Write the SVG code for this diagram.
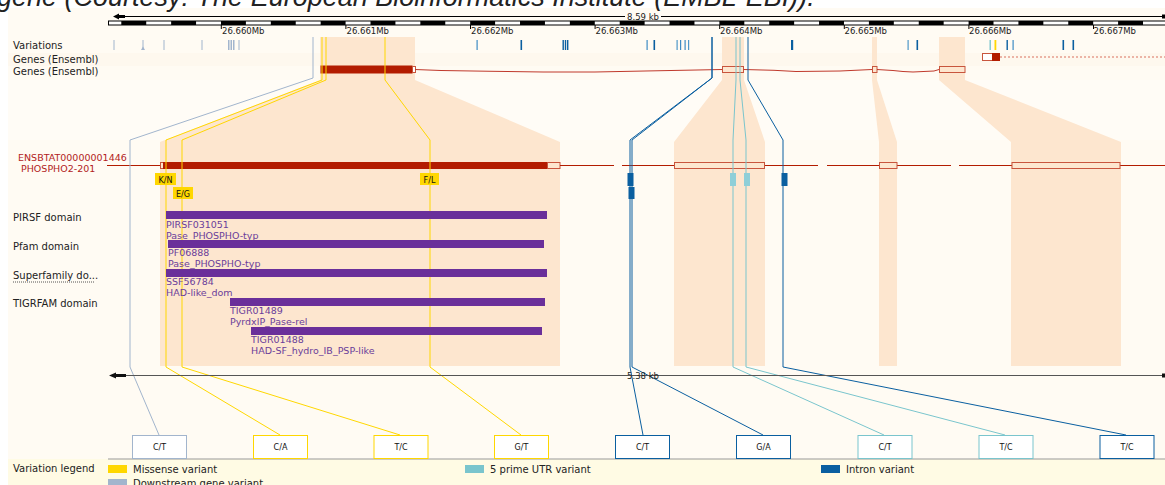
<svg xmlns="http://www.w3.org/2000/svg" width="1165" height="485" viewBox="0 0 1165 485">
<defs>
<style>
.lbl{font-family:"DejaVu Sans",sans-serif;font-size:10px;fill:#222}
.tick{font-family:"DejaVu Sans",sans-serif;font-size:8.5px;fill:#222}
.tx{font-family:"DejaVu Sans",sans-serif;font-size:9.5px;fill:#b22222}
.dom{font-family:"DejaVu Sans",sans-serif;font-size:9.5px;fill:#6a3d9a}
.dbar{fill:#6a2f9a}
.bt{font-family:"DejaVu Sans",sans-serif;font-size:8px;fill:#111;text-anchor:middle}
.peach{fill:#fde6cf}
.conn{fill:none;stroke-width:1}
.mis{stroke:#ffd700}
.utr{stroke:#7ac5cd}
.int{stroke:#0a5fa0}
.dsg{stroke:#a2b5cd}
.exo{fill:#fde6cf;stroke:#c8553d;stroke-width:1}
.exf{fill:#b31c00}
.intr{fill:none;stroke:#c0392b;stroke-width:1}
.vbox{fill:#fff;stroke-width:1}
</style>
<pattern id="ruler" patternUnits="userSpaceOnUse" x="121.3" y="21" width="49.84" height="4">
<rect x="0" y="0" width="24.92" height="4" fill="#000"/>
</pattern>
</defs>

<!-- background -->
<rect x="0" y="0" width="1165" height="485" fill="#fff"/>
<rect x="8" y="8" width="1157" height="477" fill="#fffbf3"/>
<rect x="8" y="53" width="1157" height="13" fill="#fef8ee"/>
<rect x="8" y="80" width="1157" height="60" fill="#fffcf6"/>
<rect x="8" y="459" width="1157" height="26" fill="#fffbe4"/>
<line x1="108" y1="459" x2="1165" y2="459" stroke="#999" stroke-width="1"/>

<!-- caption (cropped) -->
<text x="-3" y="6" font-family="Liberation Sans, sans-serif" font-style="italic" font-size="27" fill="#222">gene (Courtesy: The European Bioinformatics Institute (EMBL-EBI)).</text>

<!-- peach exon highlights -->
<g id="highlights">
<polygon class="peach" points="320,37 415,37 415,80 560,142 560,366 160,366 160,142 320,80"/>
<polygon class="peach" points="722,37 744,37 744,80 765,142 765,366 674,366 674,142 722,80"/>
<polygon class="peach" points="872,37 877,37 877,80 897,142 897,366 879,366 879,142 872,80"/>
<polygon class="peach" points="939,37 965,37 965,80 1121,142 1121,366 1011,366 1011,142 939,80"/>
</g>

<!-- top scale -->
<g id="scale-top">
<line x1="118" y1="16.5" x2="1165" y2="16.5" stroke="#000" stroke-width="1"/>
<polygon points="113,16.5 119,13.5 119,15 125,15 125,18 119,18 119,19.5" fill="#000"/>
<rect x="1162" y="14.5" width="3" height="4" fill="#000"/>
<rect x="625" y="11" width="36" height="11" fill="#fffbf3"/>
<text x="643" y="20" class="tick" text-anchor="middle" font-size="9">8.59 kb</text>
<rect x="108.5" y="21" width="1057" height="4" fill="#fff" stroke="#000" stroke-width="1"/>
<rect x="108.5" y="21" width="1057" height="4" fill="url(#ruler)"/>
<g stroke="#000" stroke-width="1">
<line x1="221.3" y1="25" x2="221.3" y2="29"/>
<line x1="345.9" y1="25" x2="345.9" y2="29"/>
<line x1="470.5" y1="25" x2="470.5" y2="29"/>
<line x1="595.1" y1="25" x2="595.1" y2="29"/>
<line x1="719.7" y1="25" x2="719.7" y2="29"/>
<line x1="844.3" y1="25" x2="844.3" y2="29"/>
<line x1="968.9" y1="25" x2="968.9" y2="29"/>
<line x1="1093.5" y1="25" x2="1093.5" y2="29"/>
</g>
<text x="222" y="34" class="tick">26.660Mb</text>
<text x="346.5" y="34" class="tick">26.661Mb</text>
<text x="471" y="34" class="tick">26.662Mb</text>
<text x="595.5" y="34" class="tick">26.663Mb</text>
<text x="720" y="34" class="tick">26.664Mb</text>
<text x="844.5" y="34" class="tick">26.665Mb</text>
<text x="969" y="34" class="tick">26.666Mb</text>
<text x="1093.5" y="34" class="tick">26.667Mb</text>
</g>

<!-- track labels -->
<g id="track-labels">
<text x="13" y="49" class="lbl">Variations</text>
<text x="13" y="63" class="lbl">Genes (Ensembl)</text>
<text x="13" y="75" class="lbl">Genes (Ensembl)</text>
<text x="13" y="221" class="lbl">PIRSF domain</text>
<text x="13" y="250" class="lbl">Pfam domain</text>
<text x="13" y="279" class="lbl">Superfamily do...</text>
<line x1="13" y1="282" x2="95" y2="282" stroke="#555" stroke-width="1" stroke-dasharray="1,1"/>
<text x="13" y="307" class="lbl">TIGRFAM domain</text>
<text x="13" y="472" class="lbl">Variation legend</text>
</g>

<!-- variation ticks (top track) -->
<g id="variation-track">
<g fill="#a2b5cd">
<rect x="113.5" y="40" width="1" height="10"/>
<rect x="142.5" y="40" width="1" height="8"/>
<polygon points="141,50 143,46.5 145,50"/>
<rect x="163.5" y="40" width="1" height="10"/>
<rect x="201.5" y="40" width="1" height="10"/>
<rect x="228" y="40" width="1.5" height="10"/>
<rect x="230.5" y="40" width="1.5" height="10"/>
<rect x="233" y="40" width="1.5" height="10"/>
<rect x="238.5" y="40" width="1" height="10"/>
</g>
<g fill="#0a5fa0">
<rect x="476.5" y="40" width="1.2" height="10" fill="#3f8cc4"/>
<rect x="520.5" y="40" width="1.6" height="10"/>
<rect x="562.5" y="40" width="1.4" height="10"/>
<rect x="564.8" y="40" width="1.4" height="10"/>
<rect x="567" y="40" width="1.4" height="10"/>
<rect x="646.5" y="40" width="1.2" height="10" fill="#3f8cc4"/>
<rect x="653.5" y="40" width="1.6" height="10"/>
<rect x="676.5" y="40" width="1.2" height="10" fill="#4f97c8"/>
<rect x="680" y="40" width="1.2" height="10" fill="#3f8cc4"/>
<rect x="684.5" y="40" width="1.2" height="10" fill="#3f8cc4"/>
<rect x="688" y="40" width="1.2" height="10" fill="#4f97c8"/>
<rect x="791" y="40" width="2.2" height="10"/>
<rect x="907.5" y="40" width="1.2" height="10" fill="#4f97c8"/>
<rect x="916.5" y="40" width="1.6" height="10"/>
<rect x="989.5" y="40" width="1.4" height="10" fill="#7ac5cd"/>
<rect x="994.5" y="40" width="1.8" height="10" fill="#ffd700"/>
<rect x="1006.5" y="40" width="1.4" height="10"/>
<rect x="1012.5" y="40" width="1.2" height="10" fill="#3f8cc4"/>
<rect x="1062.5" y="40" width="1.6" height="10"/>
<rect x="1072.5" y="40" width="1.6" height="10"/>
</g>
</g>

<!-- genes (Ensembl) top -->
<g id="gene-other">
<rect x="982.5" y="53.5" width="10" height="7" fill="#fff" stroke="#c8553d" stroke-width="1"/>
<rect x="992" y="53" width="8" height="8" fill="#b31c00"/>
<line x1="1000" y1="57" x2="1165" y2="57" stroke="#d9705f" stroke-width="1" stroke-dasharray="2,2"/>
</g>
<g id="gene-phospho2">
<rect x="320.5" y="65.5" width="92" height="8" fill="#b31c00"/>
<rect x="412.5" y="66.5" width="3" height="6" fill="#fff" stroke="#c8553d" stroke-width="1"/>
<polyline class="intr" points="415,69.5 441,70.5 492,71.3 543,72 595,72 645,71 697,70 722,69.5"/>
<rect class="exo" x="722.5" y="66.5" width="21" height="6"/>
<polyline class="intr" points="743.5,69.5 774,70.3 796,71.5 840,71 872,69.5"/>
<rect class="exo" x="872.5" y="66.5" width="4.5" height="6"/>
<polyline class="intr" points="877,69.5 893,70.5 903,71.5 913,72 934,71 939,69.5"/>
<rect class="exo" x="939.5" y="66.5" width="25.5" height="6"/>
</g>

<!-- transcript -->
<g id="transcript">
<text x="18" y="161" class="tx">ENSBTAT00000001446</text>
<text x="21" y="172" class="tx">PHOSPHO2-201</text>
<line x1="107" y1="165.5" x2="160" y2="165.5" stroke="#b31c00" stroke-width="1"/>
<rect class="exo" x="160.5" y="162.5" width="3" height="6"/>
<rect class="exf" x="163" y="162" width="384" height="7"/>
<rect class="exo" x="547.5" y="162.5" width="12.5" height="6"/>
<g stroke="#b31c00" stroke-width="1">
<line x1="560" y1="165.5" x2="614" y2="165.5"/>
<line x1="622" y1="165.5" x2="674" y2="165.5"/>
<line x1="765" y1="165.5" x2="818" y2="165.5"/>
<line x1="827" y1="165.5" x2="879" y2="165.5"/>
<line x1="897" y1="165.5" x2="951" y2="165.5"/>
<line x1="959" y1="165.5" x2="1012" y2="165.5"/>
<line x1="1120" y1="165.5" x2="1165" y2="165.5"/>
</g>
<rect class="exo" x="674.5" y="162.5" width="90" height="6"/>
<rect class="exo" x="879.5" y="162.5" width="17.5" height="6"/>
<rect class="exo" x="1012" y="162.5" width="108" height="6"/>
</g>

<!-- connectors -->
<g id="connectors">
<polyline class="conn dsg" points="313,37 313,78 130,140 130,367 159,435"/>
<polyline class="conn mis" points="322,37 322,80 166,140 166,367 280,435"/>
<polyline class="conn mis" points="326,37 326,80 182,140 182,367 400,435"/>
<polyline class="conn mis" points="385,37 385,80 430,140 430,367 521,435"/>
<polyline class="conn int" points="712,37 712,78 630,140 630,367 643,435"/>
<polyline class="conn int" points="712,37 712,78 632,140 632,367 763,435"/>
<polyline class="conn utr" points="736,37 736,80 733,140 733,367 884,435"/>
<polyline class="conn utr" points="740,37 740,80 746,140 746,367 1005,435"/>
<polyline class="conn int" points="748,37 748,80 783,140 783,367 1126,435"/>
</g>

<!-- variant markers on transcript -->
<g id="variant-markers">
<rect x="155" y="173" width="21" height="12" fill="#ffd700"/>
<text x="165.5" y="182.5" class="bt">K/N</text>
<rect x="173" y="187" width="20" height="12" fill="#ffd700"/>
<text x="183" y="196.5" class="bt">E/G</text>
<rect x="420" y="173" width="19" height="12" fill="#ffd700"/>
<text x="429.5" y="182.5" class="bt">F/L</text>
<rect x="627.5" y="173" width="6" height="13" fill="#0a5fa0"/>
<rect x="628.5" y="187" width="6" height="12" fill="#0a5fa0"/>
<rect x="730" y="173" width="6" height="13" fill="#8fcfd8"/>
<rect x="744" y="173" width="6" height="13" fill="#8fcfd8"/>
<rect x="781.5" y="173" width="6" height="13" fill="#0a5fa0"/>
</g>

<!-- domains -->
<g id="domain-pirsf">
<text x="166" y="228" class="dom">PIRSF031051</text>
<text x="166" y="239" class="dom">Pase_PHOSPHO-typ</text>
<rect class="dbar" x="166" y="211" width="381" height="8"/>
</g>
<g id="domain-pfam">
<rect class="dbar" x="168" y="240" width="376" height="8"/>
<text x="168" y="256" class="dom">PF06888</text>
<text x="168" y="267" class="dom">Pase_PHOSPHO-typ</text>
</g>
<g id="domain-superfamily">
<rect class="dbar" x="166" y="269" width="381" height="8"/>
<text x="166" y="285" class="dom">SSF56784</text>
<text x="166" y="296" class="dom">HAD-like_dom</text>
</g>
<g id="domain-tigr01489">
<rect class="dbar" x="230" y="298" width="315" height="8"/>
<text x="230" y="314" class="dom">TIGR01489</text>
<text x="230" y="325" class="dom">PyrdxlP_Pase-rel</text>
</g>
<g id="domain-tigr01488">
<rect class="dbar" x="251" y="327" width="291" height="8"/>
<text x="251" y="343" class="dom">TIGR01488</text>
<text x="251" y="354" class="dom">HAD-SF_hydro_IB_PSP-like</text>
</g>

<!-- bottom scale -->
<g id="scale-bottom">
<line x1="120" y1="375.5" x2="1165" y2="375.5" stroke="#555" stroke-width="1.2"/>
<polygon points="109,375.5 116,372.5 116,374 126,374 126,377 116,377 116,378.5" fill="#111"/>
<rect x="1162" y="373.5" width="3" height="4" fill="#111"/>
<text x="643" y="379" class="tick" text-anchor="middle" font-size="9" fill="#333">5.38 kb</text>
</g>

<!-- variant allele boxes -->
<g id="allele-boxes">
<rect class="vbox" x="132.5" y="435.5" width="54" height="23" stroke="#a2b5cd"/>
<text x="159.5" y="450" class="bt">C/T</text>
<rect class="vbox" x="253.5" y="435.5" width="54" height="23" stroke="#ffd700"/>
<text x="280.5" y="450" class="bt">C/A</text>
<rect class="vbox" x="374" y="435.5" width="54" height="23" stroke="#ffd700"/>
<text x="401" y="450" class="bt">T/C</text>
<rect class="vbox" x="494.5" y="435.5" width="54" height="23" stroke="#ffd700"/>
<text x="521.5" y="450" class="bt">G/T</text>
<rect class="vbox" x="615.5" y="435.5" width="54" height="23" stroke="#0a5fa0"/>
<text x="642.5" y="450" class="bt">C/T</text>
<rect class="vbox" x="736.5" y="435.5" width="54" height="23" stroke="#0a5fa0"/>
<text x="763.5" y="450" class="bt">G/A</text>
<rect class="vbox" x="858" y="435.5" width="54" height="23" stroke="#7ac5cd"/>
<text x="885" y="450" class="bt">C/T</text>
<rect class="vbox" x="979" y="435.5" width="54" height="23" stroke="#7ac5cd"/>
<text x="1006" y="450" class="bt">T/C</text>
<rect class="vbox" x="1100" y="435.5" width="54" height="23" stroke="#0a5fa0"/>
<text x="1127" y="450" class="bt">T/C</text>
</g>

<!-- legend -->
<g id="legend">
<rect x="108" y="465" width="19" height="8" fill="#ffd700"/>
<text x="133" y="473" class="lbl">Missense variant</text>
<rect x="465" y="465" width="19" height="8" fill="#7ac5cd"/>
<text x="490" y="473" class="lbl">5 prime UTR variant</text>
<rect x="821" y="465" width="19" height="8" fill="#0a5fa0"/>
<text x="846" y="473" class="lbl">Intron variant</text>
<rect x="108" y="479" width="19" height="8" fill="#a2b5cd"/>
<text x="133" y="487" class="lbl">Downstream gene variant</text>
</g>
</svg>
